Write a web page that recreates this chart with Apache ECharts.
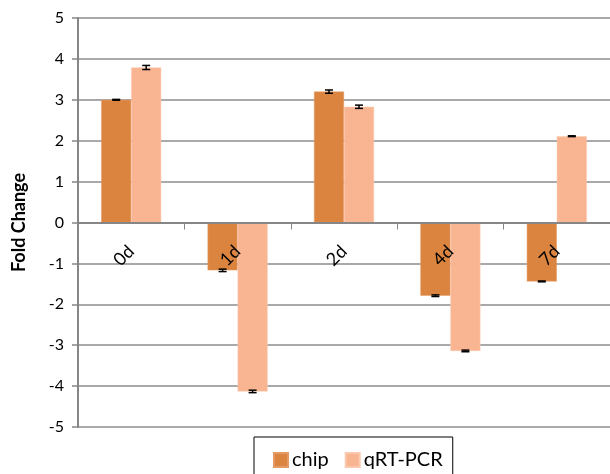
<!DOCTYPE html>
<html><head><meta charset="utf-8">
<script src="https://cdn.jsdelivr.net/npm/echarts@6/dist/echarts.min.js"></script>
<style>html,body{margin:0;padding:0;background:#fff}#c{width:610px;height:474px}</style>
</head><body><div id="c"></div>
<script>
const categories = ['0d', '1d', '2d', '4d', '7d'];
const chipValues = [3.0, -1.17, 3.2, -1.79, -1.44];
const qrtValues = [3.79, -4.13, 2.83, -3.14, 2.11];
const chipErr = [0.01, 0.03, 0.04, 0.02, 0.01];
const qrtErr = [0.05, 0.03, 0.04, 0.02, 0.01];
const yTicks = [-5, 5, 1];

const FONT = 'Lato, "Open Sans", sans-serif';
const BAR_W = 30;
const GRID_TOP = 18, GRID_BOTTOM = 47, H = 474;
const plotH = H - GRID_TOP - GRID_BOTTOM;
const zeroOffset = -plotH * (0 - yTicks[0]) / (yTicks[1] - yTicks[0]);

function errSeries(vals, errs, offset) {
  return {
    type: 'custom',
    z: 10,
    silent: true,
    data: vals.map((v, i) => [i, v - errs[i], v + errs[i]]),
    renderItem: function (params, api) {
      const lo = api.coord([api.value(0), api.value(1)]);
      const hi = api.coord([api.value(0), api.value(2)]);
      const x = lo[0] + offset;
      const cap = 4;
      const st = { stroke: '#000', lineWidth: 1.5 };
      return {
        type: 'group',
        children: [
          { type: 'line', shape: { x1: x, y1: lo[1], x2: x, y2: hi[1] }, style: st },
          { type: 'line', shape: { x1: x - cap, y1: lo[1], x2: x + cap, y2: lo[1] }, style: st },
          { type: 'line', shape: { x1: x - cap, y1: hi[1], x2: x + cap, y2: hi[1] }, style: st }
        ]
      };
    }
  };
}

const chart = echarts.init(document.getElementById('c'), null, { renderer: 'canvas' });
chart.setOption({
  animation: false,
  textStyle: { fontFamily: FONT },
  grid: { left: 78, right: 0, top: GRID_TOP, bottom: GRID_BOTTOM, containLabel: false },
  legend: {
    data: ['chip', 'qRT-PCR'],
    left: 254,
    top: 437,
    orient: 'horizontal',
    borderColor: '#000',
    borderWidth: 1,
    padding: [13, 10, 20, 19],
    itemWidth: 14,
    itemHeight: 14,
    itemGap: 16,
    icon: 'rect',
    textStyle: { fontSize: 20, color: '#000', fontFamily: FONT, padding: [0, 0, 0, -1] }
  },
  xAxis: {
    type: 'category',
    data: categories,
    position: 'bottom',
    offset: zeroOffset,
    z: 5,
    axisLine: { onZero: false, lineStyle: { color: '#868686', width: 2 } },
    axisTick: { show: true, length: 7, lineStyle: { color: '#868686', width: 1 } },
    axisLabel: { rotate: 45, fontSize: 18, color: '#000', margin: 26, fontFamily: FONT },
    splitLine: { show: false }
  },
  yAxis: {
    type: 'value',
    min: yTicks[0],
    max: yTicks[1],
    interval: yTicks[2],
    name: 'Fold Change',
    nameLocation: 'middle',
    nameGap: 50,
    nameRotate: 90,
    nameTextStyle: { fontSize: 18, fontWeight: 'bold', color: '#000', fontFamily: FONT },
    axisLine: { show: true, lineStyle: { color: '#868686', width: 2 } },
    axisTick: { show: true, length: 6, lineStyle: { color: '#868686', width: 1.5 } },
    axisLabel: { fontSize: 16, color: '#000', margin: 14, fontFamily: FONT },
    splitLine: { show: true, lineStyle: { color: '#8c8c8c', width: 1.5 } }
  },
  series: [
    {
      name: 'chip', type: 'bar', data: chipValues, barWidth: BAR_W, barGap: '0%',
      itemStyle: { color: '#DB843F', borderColor: '#E59A66', borderWidth: 0.5 }
    },
    {
      name: 'qRT-PCR', type: 'bar', data: qrtValues, barWidth: BAR_W, barGap: '0%',
      itemStyle: { color: '#F9B591', borderColor: '#FBC9AE', borderWidth: 0.5 }
    },
    errSeries(chipValues, chipErr, -BAR_W / 2),
    errSeries(qrtValues, qrtErr, BAR_W / 2)
  ]
});
</script>
</body></html>
